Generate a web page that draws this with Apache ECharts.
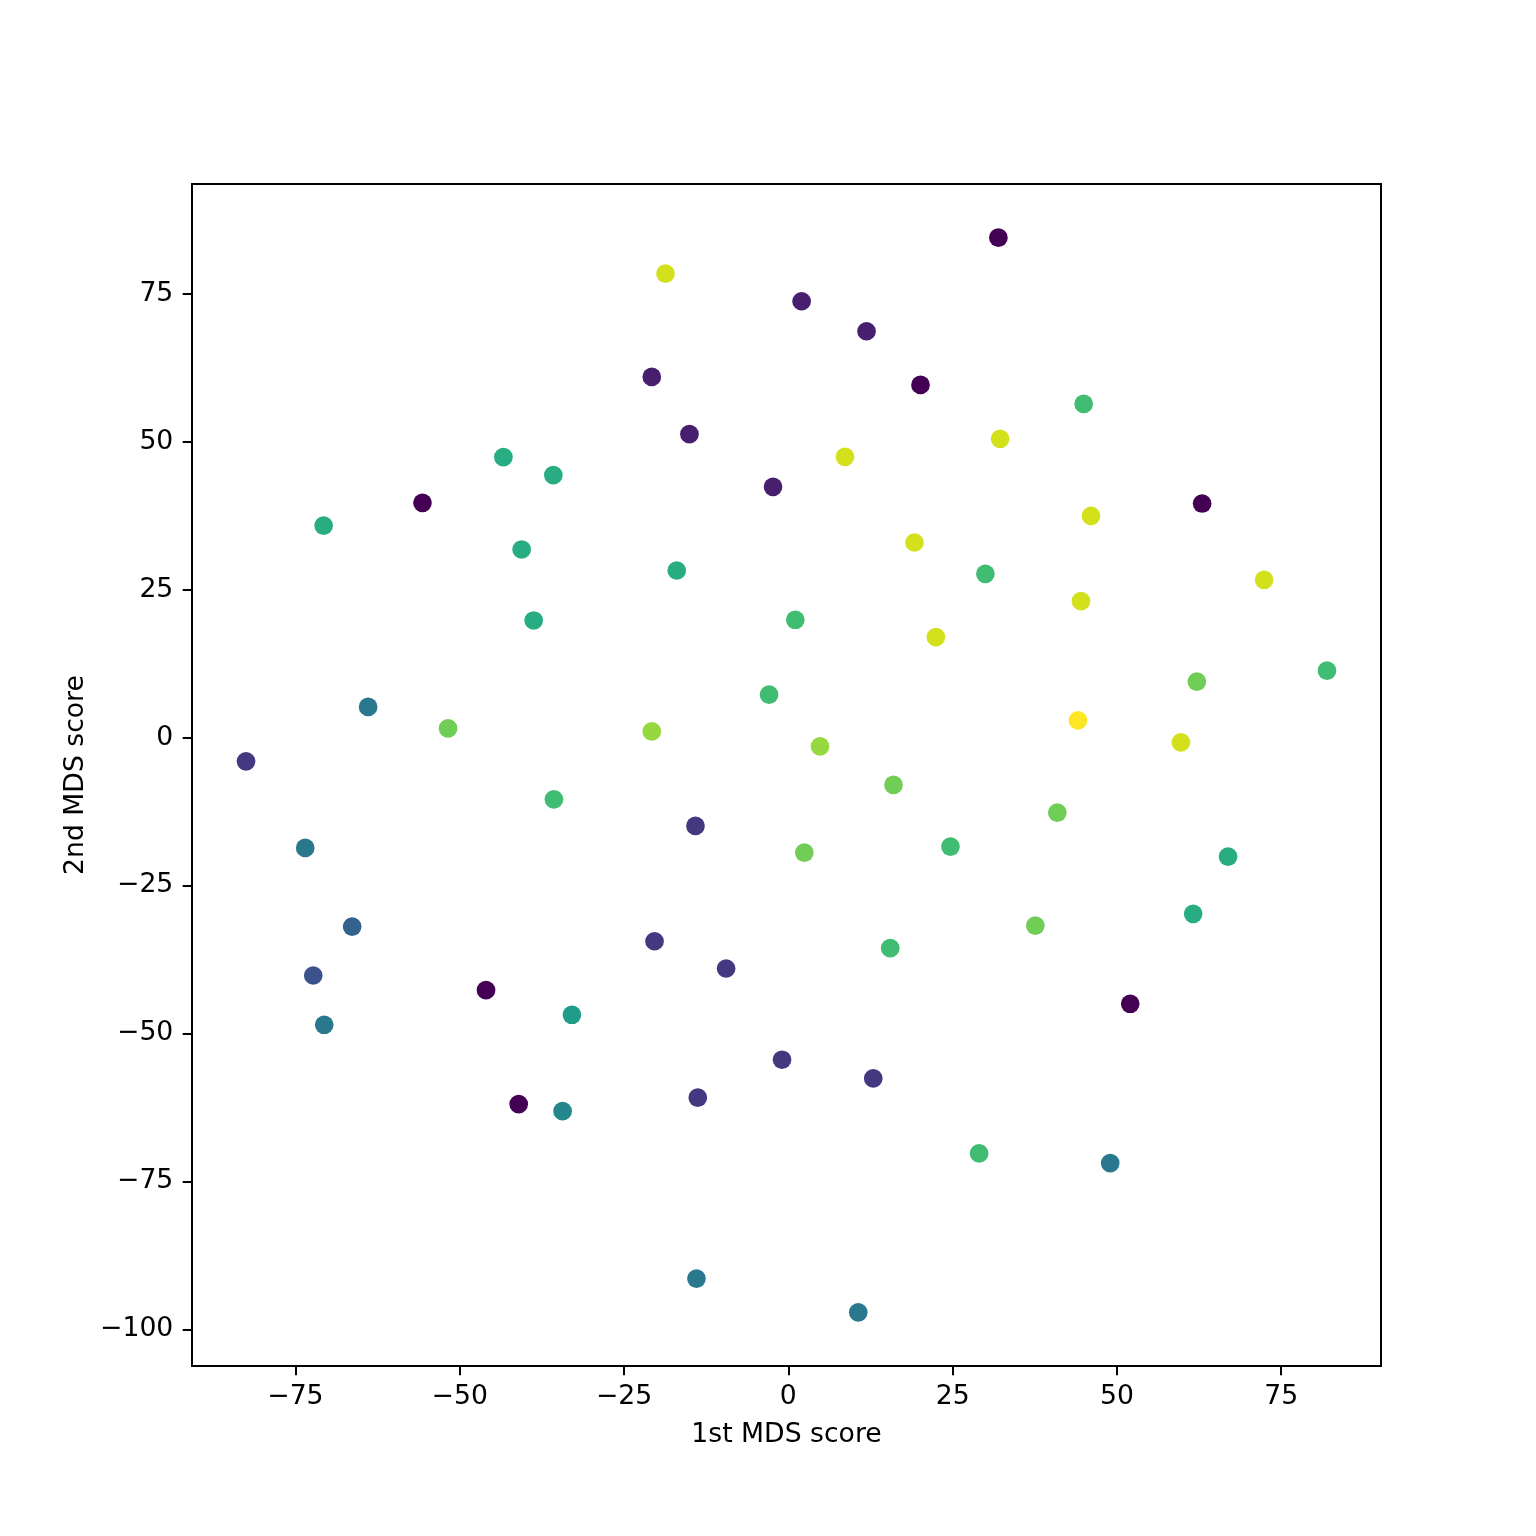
<!DOCTYPE html>
<html>
<head>
<meta charset="utf-8">
<script src="https://cdn.jsdelivr.net/npm/echarts@6/dist/echarts.min.js"></script>
<style>html,body{margin:0;padding:0;background:#fff;}#chart{width:1536px;height:1536px;}</style>
</head>
<body>
<div id="chart"></div>
<script>
// 1st MDS score
const mds1 = [31.96,-18.69,2.02,11.90,-20.78,20.11,44.94,-15.05,32.22,8.62,
  -43.36,-35.76,-2.33,-55.67,62.96,46.05,-70.71,19.19,-40.58,-16.98,
  29.98,44.53,72.39,-38.75,1.06,22.45,81.96,62.16,-63.94,-2.93,
  -51.78,-20.78,44.07,59.73,4.82,-82.52,16.00,-35.67,40.93,-14.13,
  2.43,24.67,66.91,-73.51,-66.37,37.58,61.60,-20.36,15.50,-72.29,
  -9.47,-46.00,52.02,-32.93,-70.62,-0.96,12.92,-41.03,-13.78,-34.35,
  29.03,48.98,-13.98,10.64];
// 2nd MDS score
const mds2 = [84.51,78.43,73.77,68.70,60.98,59.63,56.42,51.30,50.51,47.47,
  47.42,44.38,42.40,39.70,39.58,37.50,35.86,32.99,31.81,28.26,
  27.70,23.09,26.69,19.81,19.93,17.01,11.32,9.46,5.19,7.26,
  1.57,1.06,2.92,-0.79,-1.47,-4.00,-7.99,-10.42,-12.67,-14.92,
  -19.43,-18.41,-20.10,-18.63,-31.93,-31.76,-29.78,-34.41,-35.59,-40.20,
  -39.02,-42.69,-44.98,-46.84,-48.53,-54.44,-57.60,-61.94,-60.86,-63.13,
  -70.27,-71.91,-91.44,-97.13];
// colour variable (0..1 on viridis)
const colorValue = [0,0.93,0.08,0.08,0.08,0,0.69,0.08,0.93,0.93,
  0.62,0.62,0.08,0,0,0.93,0.62,0.93,0.62,0.62,
  0.69,0.93,0.93,0.62,0.69,0.93,0.69,0.78,0.4,0.69,
  0.78,0.84,1.0,0.93,0.84,0.16,0.78,0.69,0.78,0.16,
  0.78,0.69,0.62,0.4,0.31,0.78,0.62,0.16,0.69,0.25,
  0.16,0,0,0.55,0.4,0.16,0.16,0,0.16,0.46,
  0.69,0.4,0.4,0.4];
const xTicks = [-75,-50,-25,0,25,50,75];
const yTicks = [-100,-75,-50,-25,0,25,50,75];
const xRange = [-90.74, 90.18];
const yRange = [-106.21, 93.59];

const viridis = ['#440154','#48186a','#472d7b','#424086','#3b528b','#33638d','#2c728e','#26828e',
  '#21918c','#1fa088','#28ae80','#3fbc73','#5ec962','#84d44b','#addc30','#d8e219','#fde725'];

const data = mds1.map((x, i) => [x, mds2[i], colorValue[i]]);
const FONT = 'DejaVu Sans';
const FS = 26.67;
const fmt = v => String(v).replace('-', '\u2212');

const chart = echarts.init(document.getElementById('chart'), null, {renderer: 'canvas'});
chart.setOption({
  animation: false,
  backgroundColor: '#fff',
  grid: {left: 192, right: 155, top: 184, bottom: 170, show: true, borderColor: '#000', borderWidth: 2, backgroundColor: 'transparent'},
  visualMap: {show: false, dimension: 2, min: 0, max: 1, inRange: {color: viridis}},
  xAxis: {
    type: 'value', min: xRange[0], max: xRange[1],
    name: '1st MDS score', nameLocation: 'middle', nameGap: 56,
    nameTextStyle: {fontFamily: FONT, fontSize: FS, color: '#000'},
    axisLine: {show: true, onZero: false, lineStyle: {color: '#000', width: 2}},
    axisTick: {show: true, length: 9.33, inside: false, lineStyle: {color: '#000', width: 2}, customValues: xTicks},
    axisLabel: {fontFamily: FONT, fontSize: FS, color: '#000', margin: 18, customValues: xTicks, formatter: fmt},
    splitLine: {show: false}
  },
  yAxis: {
    type: 'value', min: yRange[0], max: yRange[1],
    name: '2nd MDS score', nameLocation: 'middle', nameGap: 101, nameRotate: 90,
    nameTextStyle: {fontFamily: FONT, fontSize: FS, color: '#000'},
    axisLine: {show: true, onZero: false, lineStyle: {color: '#000', width: 2}},
    axisTick: {show: true, length: 9.33, inside: false, lineStyle: {color: '#000', width: 2}, customValues: yTicks},
    axisLabel: {fontFamily: FONT, fontSize: FS, color: '#000', margin: 18.7, customValues: yTicks, formatter: fmt},
    splitLine: {show: false}
  },
  series: [{
    type: 'scatter',
    data: data,
    symbol: 'circle',
    symbolSize: 18.7,
    itemStyle: {opacity: 1},
    emphasis: {disabled: true}
  }]
});
</script>
</body>
</html>
